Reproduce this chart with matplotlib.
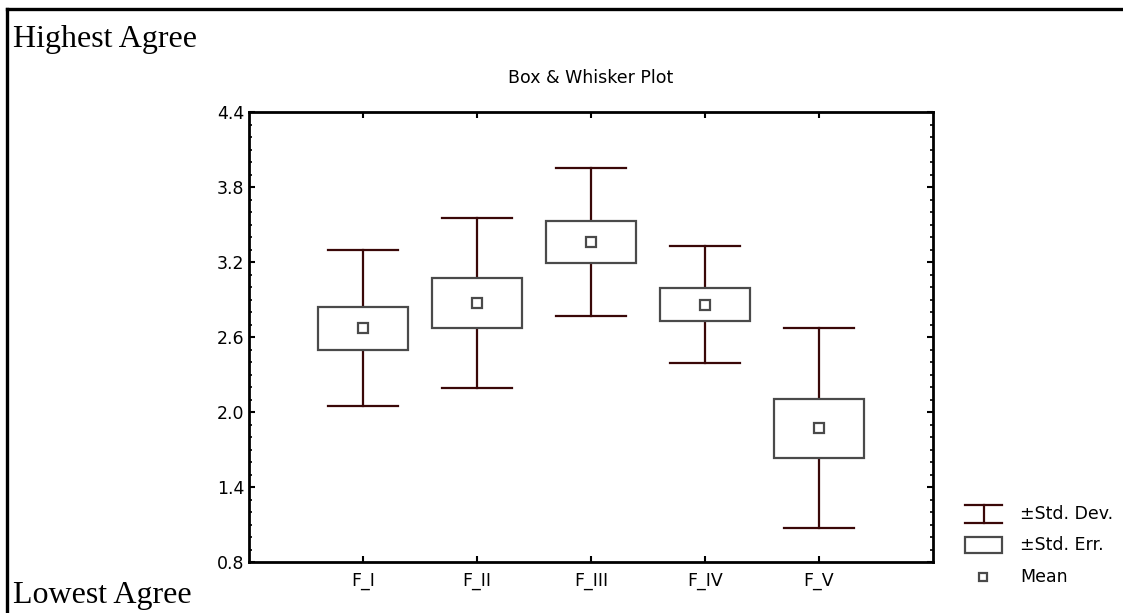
#!/usr/bin/env python3
"""Box & whisker summary of the five factor scores (mean, SE, SD)."""

import matplotlib
matplotlib.use("Agg")
import matplotlib.pyplot as plt
from matplotlib.patches import Rectangle
from matplotlib.lines import Line2D
from matplotlib.ticker import MultipleLocator, FixedLocator

FACTORS = ["F_I", "F_II", "F_III", "F_IV", "F_V"]
MEANS = [2.67, 2.87, 3.36, 2.86, 1.87]
STD_ERR = [0.17, 0.20, 0.17, 0.135, 0.235]
STD_DEV = [0.625, 0.68, 0.595, 0.47, 0.80]
Y_TICKS = [0.8, 1.4, 2.0, 2.6, 3.2, 3.8, 4.4]

WHISKER_COLOR = "#3a0808"
BOX_COLOR = "#4a4a4a"
SANS = ["DejaVu Sans"]
SERIF = ["Liberation Serif", "DejaVu Serif"]

W, H = 1123, 613
fig = plt.figure(figsize=(W / 100, H / 100), dpi=100)
fig.patch.set_facecolor("white")

ax = fig.add_axes([249 / W, 1 - 562 / H, (933 - 249) / W, (562 - 112) / H])
positions = list(range(1, len(FACTORS) + 1))

box_w = 0.79
cap_w = 0.61
for x, m, se, sd in zip(positions, MEANS, STD_ERR, STD_DEV):
    # whisker stems stop at the box edges
    ax.plot([x, x], [m + se, m + sd], color=WHISKER_COLOR, lw=1.6, zorder=2)
    ax.plot([x, x], [m - sd, m - se], color=WHISKER_COLOR, lw=1.6, zorder=2)
    ax.plot([x - cap_w / 2, x + cap_w / 2], [m + sd, m + sd], color=WHISKER_COLOR, lw=1.6, zorder=2)
    ax.plot([x - cap_w / 2, x + cap_w / 2], [m - sd, m - sd], color=WHISKER_COLOR, lw=1.6, zorder=2)
    ax.add_patch(Rectangle((x - box_w / 2, m - se), box_w, 2 * se,
                           facecolor="white", edgecolor=BOX_COLOR, lw=1.6, zorder=3))
ax.plot(positions, MEANS, linestyle="none", marker="s", markersize=6.5,
        markerfacecolor="white", markeredgecolor=BOX_COLOR, markeredgewidth=1.6, zorder=4)

ax.set_xlim(0, 6)
ax.set_ylim(0.8, 4.4)
ax.yaxis.set_minor_locator(MultipleLocator(0.1))
ax.xaxis.set_major_locator(FixedLocator(positions))
ax.set_xticklabels(FACTORS, fontsize=12.5, family=SANS)
ax.set_yticks(Y_TICKS)
ax.set_yticklabels([f"{v:.1f}" for v in Y_TICKS], fontsize=12.5, family=SANS)
ax.tick_params(axis="both", which="major", direction="in", length=4, width=1.5,
               top=True, right=True)
ax.tick_params(axis="y", which="major", pad=3.5)
ax.tick_params(axis="x", which="major", pad=7.5)
ax.tick_params(axis="y", which="minor", direction="in", length=2.5, width=1.2,
               left=True, right=True)
ax.tick_params(axis="x", which="minor", bottom=False, top=False)
for sp in ax.spines.values():
    sp.set_linewidth(2.0)
    sp.set_color("black")

ax.set_title("Box & Whisker Plot", fontsize=12.5, family=SANS, pad=21)

# overlay in pixel coordinates for frame, side labels and legend
ov = fig.add_axes([0, 0, 1, 1], zorder=-1)
ov.set_xlim(0, W)
ov.set_ylim(H, 0)
ov.axis("off")
ov.add_line(Line2D([7, 7], [9, H], color="black", lw=2.4))
ov.add_line(Line2D([7, W], [9, 9], color="black", lw=2.4))
ov.text(13, 47, "Highest Agree", fontsize=23, family=SERIF, va="baseline", ha="left")
ov.text(13, 603, "Lowest Agree", fontsize=23, family=SERIF, va="baseline", ha="left")

leg = fig.add_axes([0, 0, 1, 1], zorder=5)
leg.set_xlim(0, W)
leg.set_ylim(H, 0)
leg.axis("off")
leg.plot([965, 1002], [505, 505], color=WHISKER_COLOR, lw=1.6)
leg.plot([965, 1002], [523, 523], color=WHISKER_COLOR, lw=1.6)
leg.plot([983.5, 983.5], [505, 523], color=WHISKER_COLOR, lw=1.6)
leg.add_patch(Rectangle((965, 537), 37, 16, facecolor="white", edgecolor=BOX_COLOR, lw=1.6))
leg.plot([983], [577], linestyle="none", marker="s", markersize=6,
         markerfacecolor="white", markeredgecolor=BOX_COLOR, markeredgewidth=1.6)
for y, label in [(514, "±Std. Dev."), (545, "±Std. Err."), (577, "Mean")]:
    leg.text(1020, y, label, fontsize=12.5, family=SANS, va="center", ha="left")

fig.savefig("out.png", dpi=100)
